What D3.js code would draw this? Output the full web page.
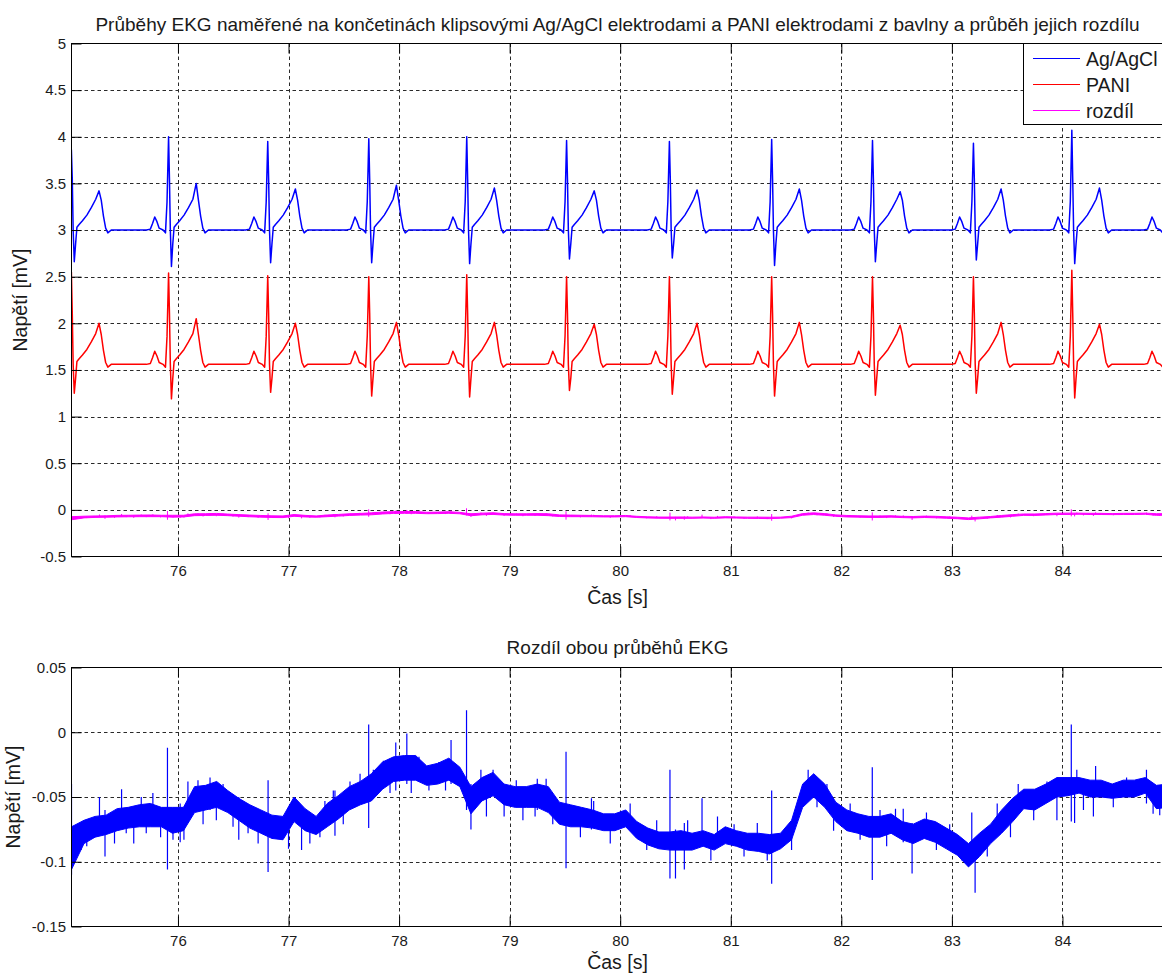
<!DOCTYPE html>
<html>
<head>
<meta charset="utf-8">
<script src="https://cdn.jsdelivr.net/npm/d3@7"></script>
<style>
  body { margin: 0; background: #fff; }
  text { font-family: "Liberation Sans", Arial, sans-serif; fill: #1a1a1a; }
</style>
</head>
<body>
<svg id="chart" width="1162" height="974"></svg>
<script>
// ---- R-peak times of the recorded beats [s]
const beatTimes = [75.036, 75.915, 76.812, 77.726, 78.612, 79.515, 80.445, 81.370, 82.282, 83.195, 84.085, 84.935];

// ---- one heartbeat, offsets from the R peak [s] and level above the isoline [mV]
// (null = value taken per beat from the R / S / T arrays below)
const templateDt    = [-0.20, -0.165, -0.145, -0.125, -0.105, -0.085, -0.05, -0.028, -0.014, 0, 0.008, 0.016, 0.026, 0.038, 0.05, 0.07, 0.10, 0.14, 0.18, 0.22, 0.25, 0.27, 0.29, 0.31, 0.33, 0.36];
const templateShape = [0, 0.01, 0.07, 0.14, 0.09, 0.02, 0, -0.03, 0.30, null, 0.55, 0.0, null, -0.15, 0.03, 0.06, 0.10, 0.16, 0.24, 0.33, null, 0.32, 0.15, 0.02, -0.03, 0];
const templateRole  = ["", "", "", "", "", "", "", "", "", "R", "", "", "S", "", "", "", "", "", "", "", "T", "", "", "", "", ""];

// ---- Ag/AgCl electrodes [mV]
const blueBase = 3.0;
const blueR = [3.86, 4.00, 3.95, 3.98, 4.00, 3.96, 3.95, 3.97, 3.96, 3.93, 4.07, 3.95];
const blueS = [2.66, 2.61, 2.65, 2.65, 2.64, 2.69, 2.70, 2.62, 2.66, 2.68, 2.64, 2.66];
const blueT = [3.42, 3.50, 3.44, 3.48, 3.45, 3.42, 3.43, 3.44, 3.41, 3.44, 3.45, 3.44];

// ---- PANI cotton electrodes [mV]
const redBase = 1.56;
const redR = [2.55, 2.54, 2.51, 2.50, 2.52, 2.50, 2.50, 2.50, 2.50, 2.50, 2.57, 2.50];
const redS = [1.25, 1.19, 1.26, 1.22, 1.21, 1.28, 1.24, 1.22, 1.23, 1.25, 1.20, 1.22];
const redT = [2.00, 2.05, 2.00, 2.01, 2.01, 1.99, 2.00, 2.01, 1.98, 2.01, 1.99, 2.00];

// ---- difference of both recordings: noise band (upper / lower edge) [mV]
const diffT = [75.037, 75.15, 75.25, 75.35, 75.45, 75.55, 75.65, 75.75, 75.85, 75.95,
  76.05, 76.15, 76.25, 76.35, 76.45, 76.55, 76.65, 76.75, 76.85, 76.95,
  77.05, 77.15, 77.25, 77.35, 77.45, 77.55, 77.65, 77.75, 77.85, 77.95,
  78.05, 78.15, 78.25, 78.35, 78.45, 78.55, 78.65, 78.75, 78.85, 78.95,
  79.05, 79.15, 79.25, 79.35, 79.45, 79.55, 79.65, 79.75, 79.85, 79.95,
  80.05, 80.15, 80.25, 80.35, 80.45, 80.55, 80.65, 80.75, 80.85, 80.95,
  81.05, 81.15, 81.25, 81.35, 81.45, 81.55, 81.65, 81.75, 81.85, 81.95,
  82.05, 82.15, 82.25, 82.35, 82.45, 82.55, 82.65, 82.75, 82.85, 82.95,
  83.05, 83.15, 83.25, 83.35, 83.45, 83.55, 83.65, 83.75, 83.85, 83.95,
  84.05, 84.15, 84.25, 84.35, 84.45, 84.55, 84.65, 84.75, 84.85, 84.95, 85.0];
const diffHi = [-0.073, -0.068, -0.065, -0.064, -0.059, -0.058, -0.056, -0.055, -0.058, -0.058,
  -0.058, -0.042, -0.041, -0.038, -0.045, -0.051, -0.056, -0.060, -0.064, -0.065,
  -0.050, -0.059, -0.065, -0.055, -0.049, -0.042, -0.038, -0.032, -0.023, -0.019,
  -0.018, -0.018, -0.026, -0.024, -0.020, -0.027, -0.042, -0.035, -0.031, -0.040,
  -0.042, -0.042, -0.040, -0.042, -0.054, -0.056, -0.058, -0.060, -0.063, -0.063,
  -0.060, -0.069, -0.074, -0.077, -0.077, -0.076, -0.078, -0.076, -0.079, -0.073,
  -0.076, -0.078, -0.078, -0.079, -0.078, -0.068, -0.040, -0.032, -0.040, -0.054,
  -0.060, -0.063, -0.065, -0.065, -0.063, -0.069, -0.071, -0.067, -0.069, -0.074,
  -0.079, -0.086, -0.078, -0.071, -0.060, -0.051, -0.044, -0.044, -0.040, -0.035,
  -0.035, -0.035, -0.037, -0.037, -0.040, -0.037, -0.037, -0.035, -0.041, -0.040, -0.042];
const diffLo = [-0.106, -0.086, -0.081, -0.079, -0.076, -0.074, -0.073, -0.073, -0.073, -0.078,
  -0.076, -0.062, -0.060, -0.058, -0.062, -0.068, -0.074, -0.078, -0.082, -0.083,
  -0.069, -0.076, -0.079, -0.073, -0.067, -0.060, -0.056, -0.053, -0.044, -0.038,
  -0.037, -0.037, -0.041, -0.040, -0.037, -0.042, -0.063, -0.053, -0.049, -0.056,
  -0.058, -0.058, -0.058, -0.062, -0.071, -0.073, -0.073, -0.074, -0.076, -0.076,
  -0.073, -0.082, -0.087, -0.090, -0.091, -0.091, -0.091, -0.088, -0.091, -0.086,
  -0.088, -0.091, -0.092, -0.094, -0.090, -0.083, -0.058, -0.050, -0.058, -0.069,
  -0.076, -0.078, -0.081, -0.081, -0.078, -0.083, -0.086, -0.082, -0.085, -0.090,
  -0.095, -0.104, -0.096, -0.086, -0.078, -0.069, -0.059, -0.060, -0.055, -0.050,
  -0.049, -0.047, -0.050, -0.050, -0.051, -0.050, -0.050, -0.047, -0.059, -0.058, -0.058];

// ---- short excursions of the difference (QRS artefacts and noise bursts) [s], [mV]
const spikeT = [
  75.037, 75.124, 75.175, 75.29, 75.34, 75.426, 75.49, 75.532, 75.60, 75.668, 75.713, 75.773, 75.843, 75.905, 75.955,
  76.02, 76.054, 76.09, 76.181, 76.227, 76.29, 76.347, 76.408, 76.498, 76.55, 76.634, 76.725, 76.815, 76.952,
  77.00, 77.118, 77.193, 77.284, 77.329, 77.405, 77.42, 77.495, 77.556, 77.647, 77.725, 77.767, 77.858, 77.918, 77.97,
  78.07, 78.11, 78.18, 78.27, 78.36, 78.42, 78.47, 78.61, 78.65, 78.74, 78.79, 78.85, 78.95,
  79.06, 79.12, 79.23, 79.25, 79.33, 79.39, 79.51, 79.64, 79.74, 79.76, 79.91,
  80.09, 80.24, 80.33, 80.45, 80.50, 80.58, 80.61, 80.74, 80.82, 80.88,
  81.03, 81.12, 81.24, 81.33, 81.37, 81.55, 81.70, 81.78, 81.87, 81.93,
  82.08, 82.17, 82.28, 82.35, 82.41, 82.49, 82.56, 82.64, 82.77, 82.86, 82.98,
  83.09, 83.18, 83.21, 83.32, 83.41, 83.53, 83.60, 83.74, 83.86, 83.95,
  84.08, 84.11, 84.13, 84.19, 84.28, 84.30, 84.46, 84.58, 84.64, 84.76, 84.82, 84.88];
const spikeHi = [
  -0.040, -0.075, -0.072, -0.050, -0.060, -0.068, -0.044, -0.065, -0.060, -0.050, -0.062, -0.047, -0.065, -0.012, -0.066,
  -0.055, -0.068, -0.038, -0.037, -0.050, -0.035, -0.048, -0.040, -0.055, -0.050, -0.062, -0.068, -0.037, -0.068,
  -0.058, -0.070, -0.070, -0.070, -0.053, -0.045, -0.045, -0.055, -0.038, -0.032, 0.006, -0.029, -0.022, -0.030, -0.008,
  -0.001, -0.030, -0.019, -0.030, -0.023, -0.030, -0.006, 0.017, -0.040, -0.029, -0.045, -0.029, -0.045,
  -0.037, -0.050, -0.050, -0.036, -0.036, -0.055, -0.015, -0.065, -0.051, -0.053, -0.068,
  -0.055, -0.078, -0.068, -0.029, -0.075, -0.070, -0.068, -0.051, -0.082, -0.065,
  -0.071, -0.082, -0.070, -0.082, -0.045, -0.075, -0.029, -0.045, -0.040, -0.060,
  -0.055, -0.068, -0.027, -0.060, -0.070, -0.059, -0.059, -0.070, -0.062, -0.078, -0.071,
  -0.085, -0.062, -0.085, -0.080, -0.055, -0.060, -0.040, -0.050, -0.038, -0.045,
  0.006, -0.040, -0.029, -0.045, -0.045, -0.026, -0.045, -0.035, -0.038, -0.029, -0.048, -0.045];
const spikeLo = [
  -0.110, -0.091, -0.088, -0.070, -0.096, -0.086, -0.070, -0.078, -0.086, -0.065, -0.078, -0.062, -0.081, -0.106, -0.083,
  -0.085, -0.083, -0.060, -0.052, -0.071, -0.060, -0.068, -0.055, -0.073, -0.083, -0.078, -0.086, -0.108, -0.078,
  -0.090, -0.091, -0.086, -0.081, -0.065, -0.060, -0.080, -0.071, -0.050, -0.048, -0.074, -0.045, -0.035, -0.047, -0.045,
  -0.040, -0.047, -0.035, -0.045, -0.035, -0.045, -0.040, -0.060, -0.075, -0.045, -0.065, -0.045, -0.065,
  -0.050, -0.068, -0.065, -0.060, -0.050, -0.071, -0.105, -0.081, -0.075, -0.065, -0.086,
  -0.065, -0.091, -0.080, -0.113, -0.113, -0.106, -0.080, -0.085, -0.099, -0.080,
  -0.085, -0.096, -0.085, -0.099, -0.117, -0.091, -0.045, -0.058, -0.052, -0.076,
  -0.068, -0.083, -0.114, -0.075, -0.088, -0.075, -0.085, -0.109, -0.075, -0.091, -0.085,
  -0.099, -0.100, -0.124, -0.096, -0.070, -0.081, -0.055, -0.068, -0.050, -0.068,
  -0.069, -0.070, -0.045, -0.060, -0.065, -0.050, -0.058, -0.048, -0.050, -0.055, -0.063, -0.064];

// ---- axis ticks and labels
const xTicks = [76, 77, 78, 79, 80, 81, 82, 83, 84];
const xTickLabels = ["76", "77", "78", "79", "80", "81", "82", "83", "84"];
const topYTicks = [-0.5, 0, 0.5, 1, 1.5, 2, 2.5, 3, 3.5, 4, 4.5, 5];
const topYTickLabels = ["-0.5", "0", "0.5", "1", "1.5", "2", "2.5", "3", "3.5", "4", "4.5", "5"];
const botYTicks = [-0.15, -0.1, -0.05, 0, 0.05];
const botYTickLabels = ["-0.15", "-0.1", "-0.05", "0", "0.05"];

const legendNames = ["Ag/AgCl", "PANI", "rozdíl"];
const legendColors = ["#0000ff", "#ff0000", "#ff00ff"];

// ---------------------------------------------------------------
function buildBeats(base, rArr, sArr, tArr) {
  const pts = [];
  beatTimes.forEach((bt, i) => {
    templateDt.forEach((dt, k) => {
      const role = templateRole[k];
      let v;
      if (role === "R") v = rArr[i];
      else if (role === "S") v = sArr[i];
      else if (role === "T") v = tArr[i];
      else v = base + templateShape[k];
      pts.push([bt + dt, v]);
    });
  });
  return pts;
}
const bluePts = buildBeats(blueBase, blueR, blueS, blueT);
const redPts = buildBeats(redBase, redR, redS, redT);
const diffBand = diffT.map((t, i) => ({ t, hi: diffHi[i], lo: diffLo[i] }));
const spikes = spikeT.map((t, i) => ({ t, hi: spikeHi[i], lo: spikeLo[i] }));

const svg = d3.select("#chart");
const xDomain = [75.037, 85];
const plotL = 71.5, plotR = 1173;

const panels = [
  { id: "top", top: 43.5, bottom: 556.5, yDomain: [-0.5, 5], yTicks: topYTicks, yLabels: topYTickLabels,
    title: "Průběhy EKG naměřené na končetinách klipsovými Ag/AgCl elektrodami a PANI elektrodami z bavlny a průběh jejich rozdílu",
    titleY: 31, xLabelY: 604, yLabelX: 20 },
  { id: "bot", top: 667.5, bottom: 926.5, yDomain: [-0.15, 0.05], yTicks: botYTicks, yLabels: botYTickLabels,
    title: "Rozdíl obou průběhů EKG", titleY: 654, xLabelY: 969, yLabelX: 13 }
];

const defs = svg.append("defs");

panels.forEach(p => {
  const x = d3.scaleLinear().domain(xDomain).range([plotL, plotR]);
  const y = d3.scaleLinear().domain(p.yDomain).range([p.bottom, p.top]);
  p.x = x; p.y = y;
  const g = svg.append("g");

  defs.append("clipPath").attr("id", "clip-" + p.id)
    .append("rect").attr("x", plotL).attr("y", p.top)
    .attr("width", plotR - plotL).attr("height", p.bottom - p.top);

  // dotted grid at every tick
  const grid = g.append("g").attr("stroke", "#2a2a2a").attr("stroke-width", 1)
    .attr("stroke-dasharray", "3.5,3");
  grid.selectAll(".gx").data(xTicks).join("line")
    .attr("x1", d => Math.round(x(d)) + 0.5).attr("x2", d => Math.round(x(d)) + 0.5)
    .attr("y1", p.top).attr("y2", p.bottom);
  grid.selectAll(".gy").data(p.yTicks.slice(1, -1)).join("line")
    .attr("y1", d => Math.round(y(d)) + 0.5).attr("y2", d => Math.round(y(d)) + 0.5)
    .attr("x1", plotL).attr("x2", plotR);

  p.data = g.append("g").attr("clip-path", "url(#clip-" + p.id + ")");
  p.g = g;
});

// ---- top panel: both recordings and their difference
{
  const p = panels[0];
  const line = d3.line().x(d => p.x(d[0])).y(d => p.y(d[1]));
  p.data.append("path").datum(bluePts).attr("d", line)
    .attr("fill", "none").attr("stroke", legendColors[0]).attr("stroke-width", 1.5).attr("stroke-linejoin", "round");
  p.data.append("path").datum(redPts).attr("d", line)
    .attr("fill", "none").attr("stroke", legendColors[1]).attr("stroke-width", 1.5).attr("stroke-linejoin", "round");
  const band = d3.area().x(d => p.x(d.t)).y0(d => p.y(d.lo)).y1(d => p.y(d.hi));
  p.data.append("path").datum(diffBand).attr("d", band)
    .attr("fill", legendColors[2]).attr("stroke", legendColors[2]).attr("stroke-width", 1);
  p.data.selectAll(".sp").data(spikes).join("line")
    .attr("x1", d => p.x(d.t)).attr("x2", d => p.x(d.t))
    .attr("y1", d => p.y(d.hi)).attr("y2", d => p.y(d.lo))
    .attr("stroke", legendColors[2]).attr("stroke-width", 1);
}

// ---- bottom panel: the difference alone
{
  const p = panels[1];
  const band = d3.area().x(d => p.x(d.t)).y0(d => p.y(d.lo)).y1(d => p.y(d.hi));
  p.data.append("path").datum(diffBand).attr("d", band)
    .attr("fill", "#0000ff").attr("stroke", "#0000ff").attr("stroke-width", 1).attr("stroke-linejoin", "round");
  p.data.selectAll(".sp").data(spikes).join("line")
    .attr("x1", d => p.x(d.t)).attr("x2", d => p.x(d.t))
    .attr("y1", d => p.y(d.hi)).attr("y2", d => p.y(d.lo))
    .attr("stroke", "#0000ff").attr("stroke-width", 1.2);
}

// ---- axes, box, titles
panels.forEach(p => {
  const g = p.g;
  const fmtX = d => xTickLabels[xTicks.indexOf(d)];
  const fmtY = d => p.yLabels[p.yTicks.indexOf(d)];

  const ax = g.append("g").attr("transform", `translate(0,${p.bottom})`)
    .call(d3.axisBottom(p.x).tickValues(xTicks).tickFormat(fmtX).tickSizeInner(-10).tickSizeOuter(0).tickPadding(8.5));
  const axT = g.append("g").attr("transform", `translate(0,${p.top})`)
    .call(d3.axisTop(p.x).tickValues(xTicks).tickFormat("").tickSizeInner(-10).tickSizeOuter(0));
  const ay = g.append("g").attr("transform", `translate(${plotL},0)`)
    .call(d3.axisLeft(p.y).tickValues(p.yTicks).tickFormat(fmtY).tickSizeInner(-10).tickSizeOuter(0).tickPadding(5.5));
  [ax, axT, ay].forEach(a => {
    a.select(".domain").remove();
    a.selectAll(".tick line").attr("stroke", "#000");
    a.selectAll("text").attr("font-size", 15).attr("fill", "#1a1a1a")
      .style("font-family", '"Liberation Sans", Arial, sans-serif');
  });

  g.append("rect").attr("x", plotL).attr("y", p.top)
    .attr("width", plotR - plotL).attr("height", p.bottom - p.top)
    .attr("fill", "none").attr("stroke", "#000").attr("stroke-width", 1);

  svg.append("text").attr("x", 617.5).attr("y", p.titleY)
    .attr("text-anchor", "middle").attr("font-size", 19).text(p.title);
  svg.append("text").attr("x", 617.5).attr("y", p.xLabelY)
    .attr("text-anchor", "middle").attr("font-size", 19.5).text("Čas [s]");
  svg.append("text")
    .attr("transform", `translate(${p.yLabelX},${(p.top + p.bottom) / 2}) rotate(-90)`)
    .attr("text-anchor", "middle").attr("dominant-baseline", "central")
    .attr("font-size", 19.5).text("Napětí [mV]");
});

// ---- legend
{
  const lg = svg.append("g");
  lg.append("rect").attr("x", 1023.5).attr("y", 43.5).attr("width", 170).attr("height", 81)
    .attr("fill", "#fff").attr("stroke", "#000").attr("stroke-width", 1);
  const rows = legendNames.map((n, i) => ({ n, c: legendColors[i], i }));
  const rowY = d3.scalePoint().domain(rows.map(r => r.i)).range([58.5, 110.5]);
  lg.selectAll(".ll").data(rows).join("line")
    .attr("x1", 1033).attr("x2", 1080)
    .attr("y1", d => rowY(d.i)).attr("y2", d => rowY(d.i))
    .attr("stroke", d => d.c).attr("stroke-width", 1.2);
  lg.selectAll(".lt").data(rows).join("text")
    .attr("x", 1086).attr("y", d => rowY(d.i) + 7)
    .attr("font-size", 19.5).text(d => d.n);
}
</script>
</body>
</html>
